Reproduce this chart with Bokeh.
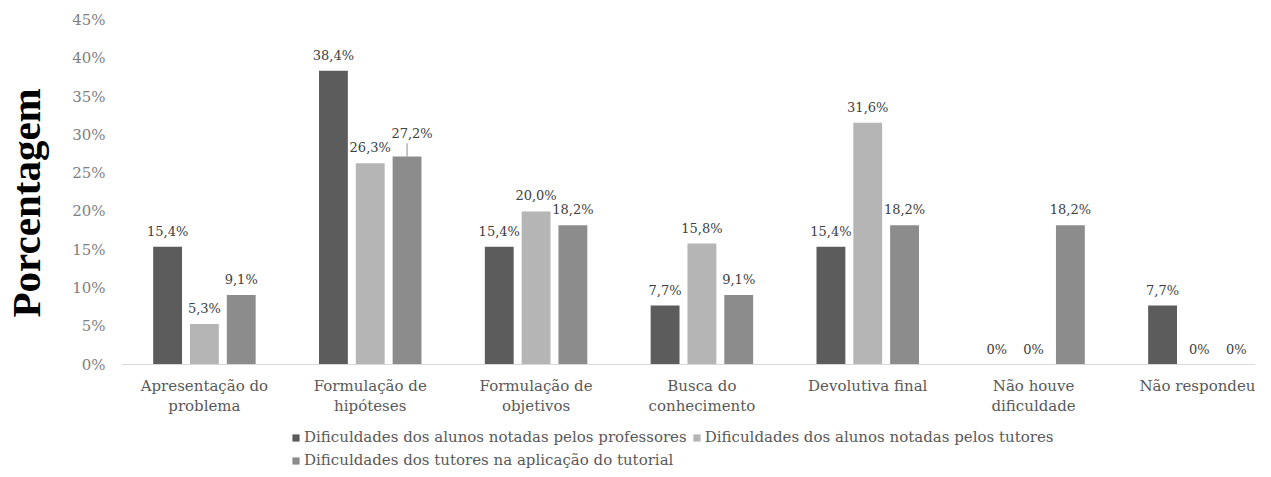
from bokeh.plotting import figure
from bokeh.layouts import column
from bokeh.models import (Range1d, FixedTicker, PrintfTickFormatter, Legend, LegendItem,
                          ColumnDataSource)
from bokeh.core.properties import value
from bokeh.embed import file_html
from bokeh.resources import INLINE

categories = ["Apresentação do\nproblema", "Formulação de\nhipóteses", "Formulação de\nobjetivos",
              "Busca do\nconhecimento", "Devolutiva final", "Não houve\ndificuldade", "Não respondeu"]
series_names = ["Dificuldades dos alunos notadas pelos professores",
                "Dificuldades dos alunos notadas pelos tutores",
                "Dificuldades dos tutores na aplicação do tutorial"]
professores = [15.4, 38.4, 15.4, 7.7, 15.4, 0.0, 7.7]
tutores_alunos = [5.3, 26.3, 20.0, 15.8, 31.6, 0.0, 0.0]
tutores = [9.1, 27.2, 18.2, 9.1, 18.2, 18.2, 0.0]
y_ticks = [0, 5, 10, 15, 20, 25, 30, 35, 40, 45]
y_title = "Porcentagem"

series = [professores, tutores_alunos, tutores]
colors = ["#5c5c5c", "#b5b5b5", "#8c8c8c"]
offsets = [-0.222, 0.0, 0.222]
BAR_W = 0.174
SERIF = "DejaVu Serif"

W, H, LH = 1255, 428, 41
p = figure(width=W, height=H, output_backend="svg", toolbar_location=None,
           x_range=Range1d(0, (W - 113) / 167.0), y_range=Range1d(0, 46.27),
           min_border_left=113, min_border_right=0, min_border_top=10, min_border_bottom=64)
p.outline_line_color = None
p.xgrid.visible = False
p.ygrid.visible = False

for vals, col, off in zip(series, colors, offsets):
    xs = [i + 0.5 + off for i in range(len(categories))]
    labels = [("%.1f%%" % v).replace(".", ",") if v else "0%" for v in vals]
    src = ColumnDataSource(dict(x=xs, top=vals))
    p.vbar(x="x", top="top", width=BAR_W, source=src, fill_color=col, line_color=None)
    is_callout = [(col == colors[2] and v == 27.2) for v in vals]
    normal = [k for k in range(len(vals)) if not is_callout[k]]
    nsrc = ColumnDataSource(dict(x=[xs[k] for k in normal], y=[vals[k] for k in normal],
                                 t=[labels[k] for k in normal]))
    p.text(x="x", y="y", text="t", source=nsrc, text_align="center", text_baseline="bottom",
           y_offset=-8, text_font=value(SERIF), text_font_size="13px", text_color="#404040")
    callout = [k for k in range(len(vals)) if is_callout[k]]
    if callout:
        csrc = ColumnDataSource(dict(x=[xs[k] for k in callout], y=[vals[k] for k in callout],
                                     y1=[vals[k] + 1.7 for k in callout],
                                     t=[labels[k] for k in callout]))
        p.segment(x0="x", y0="y", x1="x", y1="y1", source=csrc, line_color="#8c8c8c", line_width=1)
        p.text(x="x", y="y", text="t", source=csrc, text_align="center", text_baseline="bottom",
               x_offset=5, y_offset=-15, text_font=value(SERIF), text_font_size="13px",
               text_color="#404040")

# x axis
p.xaxis.ticker = FixedTicker(ticks=[i + 0.5 for i in range(len(categories))])
p.xaxis.major_label_overrides = {i + 0.5: c for i, c in enumerate(categories)}
p.xaxis.axis_line_color = "#d9d9d9"
p.xaxis.major_tick_line_color = None
p.xaxis.major_tick_out = 0
p.xaxis.minor_tick_line_color = None
p.xaxis.major_label_standoff = 12
p.xaxis.major_label_text_font = SERIF
p.xaxis.major_label_text_font_size = "15px"
p.xaxis.major_label_text_color = "#595959"
p.xaxis.major_label_text_line_height = 1.15

# y axis
p.yaxis.ticker = FixedTicker(ticks=y_ticks)
p.yaxis.formatter = PrintfTickFormatter(format="%d%%")
p.yaxis.axis_line_color = None
p.yaxis.major_tick_line_color = None
p.yaxis.major_tick_out = 0
p.yaxis.minor_tick_line_color = None
p.yaxis.major_label_standoff = 16
p.yaxis.major_label_text_font = SERIF
p.yaxis.major_label_text_font_size = "15px"
p.yaxis.major_label_text_color = "#7f7f7f"
p.yaxis.axis_label = y_title + "\u00a0\u00a0\u00a0"
p.yaxis.axis_label_text_font = "Liberation Serif"
p.yaxis.axis_label_text_font_style = "bold"
p.yaxis.axis_label_text_font_size = "41px"
p.yaxis.axis_label_text_color = "#000000"
p.yaxis.axis_label_standoff = 20

# legend strip below the chart
leg = figure(width=W, height=LH, output_backend="svg", toolbar_location=None,
             x_range=Range1d(0, W), y_range=Range1d(0, LH),
             x_axis_location=None, y_axis_location=None,
             min_border_left=0, min_border_right=0, min_border_top=0, min_border_bottom=0)
leg.outline_line_color = None
leg.xgrid.visible = False
leg.ygrid.visible = False
leg_renderers = [leg.vbar(x="x", top="top", width=0, fill_color=c, line_color=None,
                          source=ColumnDataSource(dict(x=[0], top=[0])))
                 for c in colors]
legend = Legend(items=[LegendItem(label=n, renderers=[r]) for n, r in zip(series_names, leg_renderers)],
                orientation="horizontal", ncols=2, location=(170, 0),
                padding=0, margin=0, spacing=5, label_standoff=4,
                glyph_width=9, glyph_height=9, label_height=18,
                border_line_color=None, background_fill_alpha=0,
                label_text_font=SERIF, label_text_font_size="15px", label_text_color="#595959")
leg.add_layout(legend, "center")

open("out.html", "w").write(file_html(column(p, leg, spacing=0), INLINE))
